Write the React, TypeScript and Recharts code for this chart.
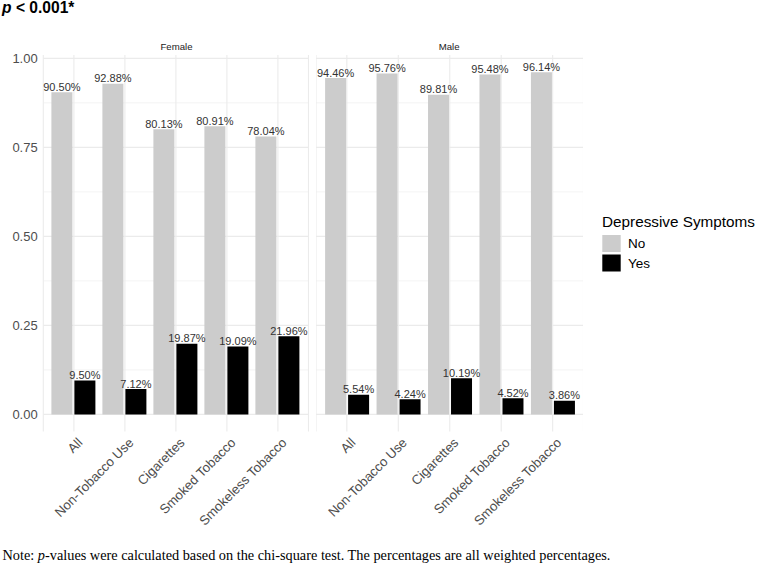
import React from "react";
import { BarChart, Bar, XAxis, YAxis, CartesianGrid, LabelList } from "recharts";

const categories = ["All", "Non-Tobacco Use", "Cigarettes", "Smoked Tobacco", "Smokeless Tobacco"];
const femaleNo = [90.5, 92.88, 80.13, 80.91, 78.04];
const femaleYes = [9.5, 7.12, 19.87, 19.09, 21.96];
const maleNo = [94.46, 95.76, 89.81, 95.48, 96.14];
const maleYes = [5.54, 4.24, 10.19, 4.52, 3.86];
const yTicks = [0, 0.25, 0.5, 0.75, 1];
const yMinor = [0.125, 0.375, 0.625, 0.875];
const yTickLabels = ["0.00", "0.25", "0.50", "0.75", "1.00"];
const facets = ["Female", "Male"];
const legendTitle = "Depressive Symptoms";
const legendItems = ["No", "Yes"];

const femaleData = categories.map((c, i) => ({ cat: c, No: femaleNo[i] / 100, Yes: femaleYes[i] / 100 }));
const maleData = categories.map((c, i) => ({ cat: c, No: maleNo[i] / 100, Yes: maleYes[i] / 100 }));

const Y_DOMAIN: [number, number] = [-0.048, 1.0095];
const GREY = "#CCCCCC";
const AXIS_TEXT = "#4D4D4D";
const FONT = "'Liberation Sans', Arial, Helvetica, sans-serif";

const XTick = (props: any) => {
  const { x, y, payload } = props;
  const ax = x + 9.5;
  const ay = y + 12;
  return (
    <text
      x={ax}
      y={ay}
      transform={`rotate(-45 ${ax} ${ay})`}
      textAnchor="end"
      fontSize={13.2}
      fill={AXIS_TEXT}
      fontFamily={FONT}
    >
      {payload.value}
    </text>
  );
};

const BarLabel = (props: any) => {
  const { x, y, width, value } = props;
  return (
    <text x={x + width / 2} y={y - 1.5} textAnchor="middle" fontSize={11} fill="#333333" fontFamily={FONT}>
      {(value * 100).toFixed(2)}%
    </text>
  );
};

const Panel = ({ data, showY, width }: { data: any[]; showY: boolean; width: number }) => (
  <BarChart
    width={width}
    height={568}
    data={data}
    margin={{ top: 55, right: 0, bottom: 0, left: 0 }}
    barSize={21}
    barGap={2}
  >
    <CartesianGrid
      horizontalValues={yMinor}
      vertical={false}
      stroke="#EBEBEB"
      strokeWidth={0.6}
    />
    <CartesianGrid horizontalValues={yTicks} stroke="#EBEBEB" strokeWidth={1.1} />
    <XAxis
      dataKey="cat"
      type="category"
      padding={{ left: 5.1, right: 5.1 }}
      axisLine={false}
      tickLine={false}
      tickSize={0}
      tickMargin={0}
      height={136.5}
      interval={0}
      tick={<XTick />}
    />
    <YAxis
      hide={!showY}
      type="number"
      domain={Y_DOMAIN}
      allowDataOverflow
      ticks={yTicks}
      tickFormatter={(v: number) => yTickLabels[yTicks.indexOf(v)]}
      width={43.3}
      axisLine={false}
      tickLine={false}
      tickSize={0}
      tickMargin={5.6}
      tick={{ fontSize: 13, fill: AXIS_TEXT, fontFamily: FONT }}
    />
    <Bar dataKey="No" fill={GREY} isAnimationActive={false}>
      <LabelList dataKey="No" content={<BarLabel />} />
    </Bar>
    <Bar dataKey="Yes" fill="#000000" isAnimationActive={false}>
      <LabelList dataKey="Yes" content={<BarLabel />} />
    </Bar>
  </BarChart>
);

export default function App() {
  return (
    <div style={{ position: "absolute", left: 0, top: 0, width: 763, height: 568, background: "#fff", overflow: "hidden" }}>
      <div style={{ position: "absolute", left: 0, top: 0 }}>
        <Panel data={femaleData} showY={true} width={308.5} />
      </div>
      <div style={{ position: "absolute", left: 315.5, top: 0 }}>
        <Panel data={maleData} showY={false} width={267.5} />
      </div>
      <svg
        width={763}
        height={568}
        style={{ position: "absolute", left: 0, top: 0, pointerEvents: "none" }}
      >
        <text x={2} y={13} fontSize={15.6} fontWeight="bold" fontFamily={FONT} fill="#000">
          <tspan fontStyle="italic">p</tspan> {"< 0.001*"}
        </text>
        <text x={176.5} y={50} fontSize={9.6} textAnchor="middle" fill="#1A1A1A" fontFamily={FONT}>
          {facets[0]}
        </text>
        <text x={449.2} y={50} fontSize={9.6} textAnchor="middle" fill="#1A1A1A" fontFamily={FONT}>
          {facets[1]}
        </text>
        <text x={602} y={227} fontSize={15.3} fill="#000" fontFamily={FONT}>
          {legendTitle}
        </text>
        <rect x={602.3} y={235} width={18.4} height={17} fill={GREY} />
        <rect x={602.3} y={254.5} width={18.4} height={17} fill="#000" />
        <text x={628} y={248.3} fontSize={13.5} fill="#000" fontFamily={FONT}>
          {legendItems[0]}
        </text>
        <text x={628} y={267.7} fontSize={13.5} fill="#000" fontFamily={FONT}>
          {legendItems[1]}
        </text>
        <text x={2.5} y={560} fontSize={14.3} fill="#000" fontFamily="'Liberation Serif', 'Times New Roman', serif">
          Note: <tspan fontStyle="italic">p</tspan>-values were calculated based on the chi-square test. The percentages are all weighted percentages.
        </text>
      </svg>
    </div>
  );
}
